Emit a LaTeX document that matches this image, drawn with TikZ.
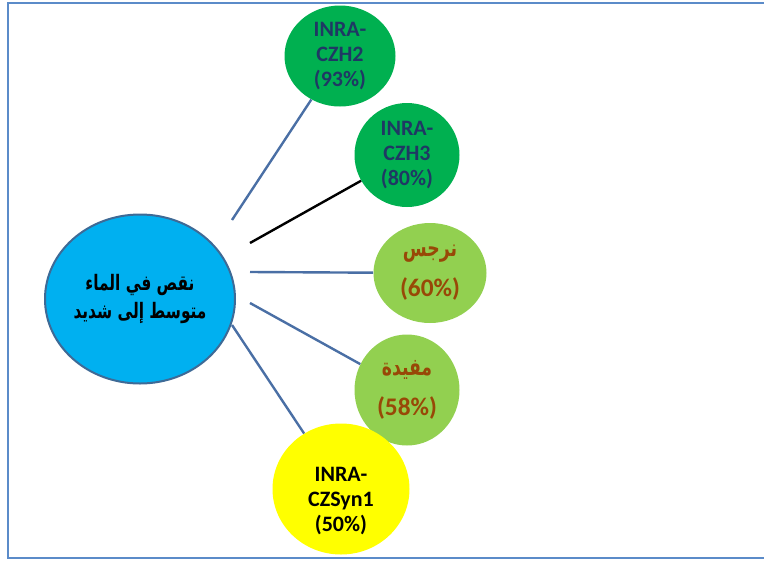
\documentclass[tikz,border=0pt]{standalone}
\usepackage{fontspec}
\setmainfont{Carlito}
\newfontfamily\arabicfont[Script=Arabic, FakeStretch=0.72,
  BoldFont={DejaVu Sans Bold}]{DejaVu Sans}
\TeXXeTstate=1
\usetikzlibrary{shapes.geometric}

\definecolor{framecol}{HTML}{5B8BC9}
\definecolor{linkcol}{HTML}{4A6FA5}
\definecolor{skycol}{HTML}{00B0F0}
\definecolor{rimcol}{HTML}{3E6A96}
\definecolor{deepgreen}{HTML}{00B050}
\definecolor{leafgreen}{HTML}{92D050}
\definecolor{sunyellow}{HTML}{FFFF00}
\definecolor{navytext}{HTML}{1F3864}
\definecolor{rusttext}{HTML}{984807}

\tikzset{
  blob/.style={ellipse, inner sep=0pt, align=center, font=\bfseries\fontsize{16.5}{19}\selectfont},
  darkblob/.style={blob, fill=deepgreen, text=navytext},
  lightblob/.style={blob, fill=leafgreen, text=rusttext, font=\bfseries\fontsize{19}{30}\selectfont},
  link/.style={draw=linkcol, line width=1.8pt},
  blacklink/.style={draw=black, line width=1.8pt}
}

\begin{document}
\begin{tikzpicture}[x=0.75pt, y=-0.75pt]
  \useasboundingbox (0,0) rectangle (764,561);

  % outer frame (right side runs off the page)
  \draw[framecol, line width=1.5pt] (790,3) -- (8,3) -- (8,557.5) -- (790,557.5);

  % central condition
  \node[ellipse, fill=skycol, draw=rimcol, line width=1.5pt,
        minimum width=190*0.75pt, minimum height=169*0.75pt, inner sep=0pt,
        align=center, font=\arabicfont\bfseries\fontsize{16}{21}\selectfont]
    (stress) at (140,299) {\beginR نقص في الماء\endR\\\beginR متوسط إلى شديد\endR};

  % varieties
  \node[darkblob, minimum width=111*0.75pt, minimum height=101*0.75pt]
    (czh2) at (340,56) {INRA-\\CZH2\\(93\%)};
  \node[darkblob, minimum width=105*0.75pt, minimum height=104*0.75pt]
    (czh3) at (407,155) {INRA-\\CZH3\\(80\%)};
  \node[lightblob, minimum width=113*0.75pt, minimum height=100*0.75pt]
    (narjes) at (430,273) {{\arabicfont\fontsize{18}{30}\selectfont\beginR نرجس\endR}\\(60\%)};
  \node[lightblob, minimum width=105*0.75pt, minimum height=111*0.75pt]
    (mfida) at (407,390) {{\arabicfont\fontsize{18}{30}\selectfont\beginR مفيدة\endR}\\(58\%)};
  \node[blob, fill=sunyellow, minimum width=137*0.75pt, minimum height=131*0.75pt]
    (syn1) at (341,489) {};
  \node[blob, text=black] (syn1text) at (341,501) {INRA-\\CZSyn1\\(50\%)};

  % loose ends of the connectors near the central ellipse
  \coordinate (s1) at (232,220);
  \coordinate (s2) at (250,243);
  \coordinate (s3) at (250,272);
  \coordinate (s4) at (250,303);
  \coordinate (s5) at (232,325);

  \draw[link] (s1) -- (czh2);
  \draw[blacklink] (s2) -- (czh3);
  \draw[link] (s3) -- (narjes);
  \draw[link] (s4) -- (mfida);
  \draw[link] (s5) -- (syn1);
\end{tikzpicture}
\end{document}
